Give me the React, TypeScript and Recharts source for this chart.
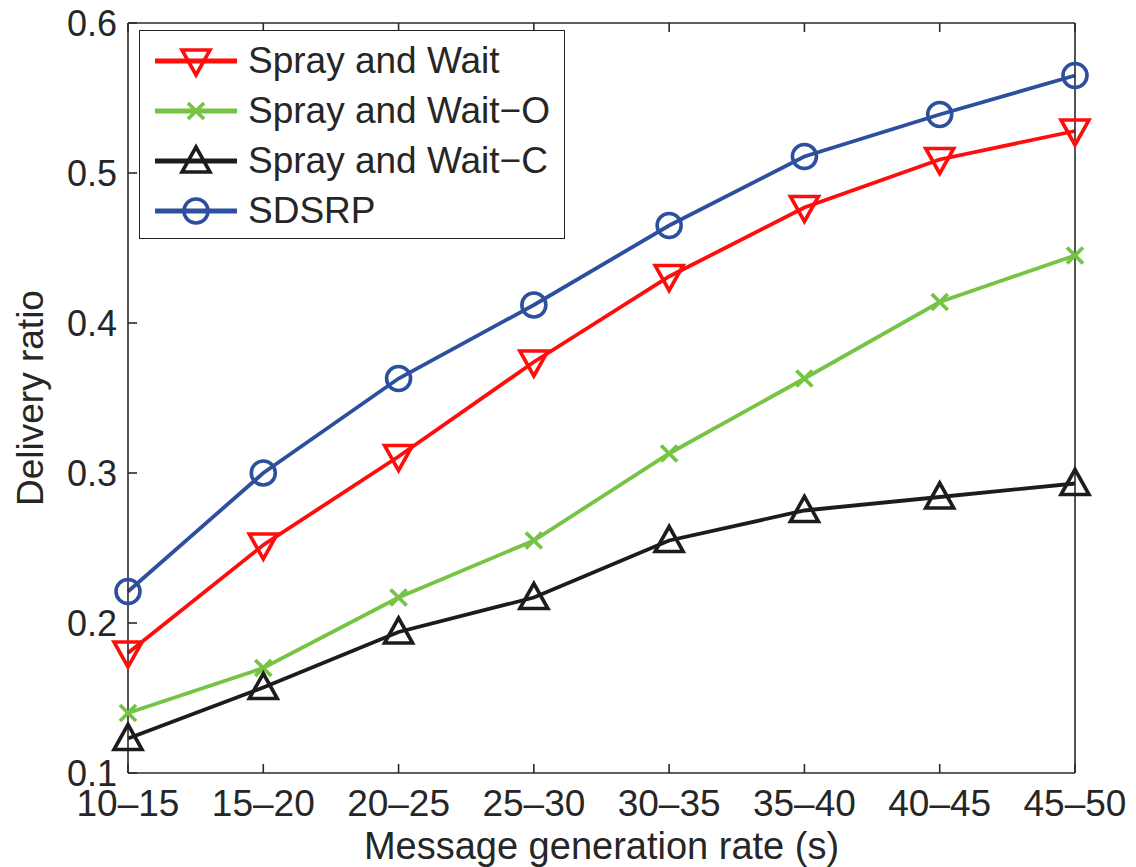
import React from 'react';
import { LineChart, Line, XAxis, YAxis } from 'recharts';

const rates = ['10\u201315', '15\u201320', '20\u201325', '25\u201330', '30\u201335', '35\u201340', '40\u201345', '45\u201350'];
const sprayWait = [0.18, 0.252, 0.311, 0.374, 0.431, 0.477, 0.509, 0.528];
const sprayWaitO = [0.14, 0.17, 0.217, 0.255, 0.313, 0.363, 0.414, 0.445];
const sprayWaitC = [0.123, 0.157, 0.194, 0.217, 0.255, 0.275, 0.284, 0.293];
const sdsrp = [0.221, 0.3, 0.363, 0.412, 0.465, 0.511, 0.539, 0.565];
const yTicks = [0.1, 0.2, 0.3, 0.4, 0.5, 0.6];

const data = rates.map((r, i) => ({
  rate: r,
  sw: sprayWait[i],
  swo: sprayWaitO[i],
  swc: sprayWaitC[i],
  sdsrp: sdsrp[i],
}));

const FONT = '"Liberation Sans", Arial, Helvetica, sans-serif';
const AXIS = '#2a2a2a';
const TEXT = '#262626';

type Shape = 'down' | 'up' | 'x' | 'circle';

const series: { key: string; name: string; color: string; shape: Shape }[] = [
  { key: 'sw', name: 'Spray and Wait', color: '#ff0d0d', shape: 'down' },
  { key: 'swo', name: 'Spray and Wait\u2212O', color: '#76c443', shape: 'x' },
  { key: 'swc', name: 'Spray and Wait\u2212C', color: '#1c1c1c', shape: 'up' },
  { key: 'sdsrp', name: 'SDSRP', color: '#2c509e', shape: 'circle' },
];

function Marker({ cx, cy, shape, color }: { cx: number; cy: number; shape: Shape; color: string }) {
  const w = 14;
  if (shape === 'down') {
    return (
      <polygon
        points={`${cx - w},${cy - 11} ${cx + w},${cy - 11} ${cx},${cy + 14}`}
        fill="none" stroke={color} strokeWidth={3.6} strokeLinejoin="miter"
      />
    );
  }
  if (shape === 'up') {
    return (
      <polygon
        points={`${cx - w},${cy + 11} ${cx + w},${cy + 11} ${cx},${cy - 14}`}
        fill="none" stroke={color} strokeWidth={3.6} strokeLinejoin="miter"
      />
    );
  }
  if (shape === 'x') {
    const k = 8;
    return (
      <g stroke={color} strokeWidth={3.8}>
        <line x1={cx - k} y1={cy - k} x2={cx + k} y2={cy + k} />
        <line x1={cx - k} y1={cy + k} x2={cx + k} y2={cy - k} />
      </g>
    );
  }
  return <circle cx={cx} cy={cy} r={12} fill="none" stroke={color} strokeWidth={3.6} />;
}

const makeDot = (shape: Shape, color: string) => (props: any) => {
  const { cx, cy, index } = props;
  return (
    <g key={`${shape}-${index}`}>
      <Marker cx={cx} cy={cy} shape={shape} color={color} />
    </g>
  );
};

function LegendBox() {
  return (
    <div
      style={{
        position: 'absolute',
        left: 139,
        top: 30,
        border: '1.5px solid #222',
        background: '#fff',
        width: 426,
        height: 209,
        padding: '5px 0 0 0',
        boxSizing: 'border-box',
        fontFamily: FONT,
      }}
    >
      {series.map((s) => (
        <div key={s.key} style={{ display: 'flex', alignItems: 'center', height: 50 }}>
          <svg width={108} height={50} style={{ display: 'block' }}>
            <line x1={15} y1={25} x2={97} y2={25} stroke={s.color} strokeWidth={5} />
            <Marker cx={56} cy={25} shape={s.shape} color={s.color} />
          </svg>
          <span style={{ fontSize: 37, color: TEXT, whiteSpace: 'nowrap', lineHeight: '50px' }}>{s.name}</span>
        </div>
      ))}
    </div>
  );
}

export default function App() {
  return (
    <div style={{ position: 'absolute', left: 0, top: 0, width: 1136, height: 867, background: '#fff' }}>
      <LineChart
        width={1136}
        height={867}
        data={data}
        margin={{ top: 22, right: 60, bottom: 0, left: 0 }}
      >
        <XAxis
          dataKey="rate"
          xAxisId="bottom"
          height={94}
          tickSize={-9}
          tickMargin={26}
          interval={0}
          stroke={AXIS}
          strokeWidth={1.6}
          tick={{ fontSize: 37, fill: TEXT, fontFamily: FONT }}
          label={{ value: 'Message generation rate (s)', position: 'insideBottom', offset: 8, fontSize: 38, fill: TEXT, fontFamily: FONT }}
        />
        <XAxis
          dataKey="rate"
          xAxisId="top"
          orientation="top"
          height={1}
          tickSize={-9}
          interval={0}
          stroke={AXIS}
          strokeWidth={1.6}
          tickFormatter={() => ''}
        />
        <YAxis
          yAxisId="left"
          width={128}
          domain={[0.1, 0.6]}
          ticks={yTicks}
          tickSize={-9}
          tickMargin={20}
          stroke={AXIS}
          strokeWidth={1.6}
          tickFormatter={(v: number) => v.toFixed(1)}
          tick={{ fontSize: 36, fill: TEXT, fontFamily: FONT }}
          label={{ value: 'Delivery ratio', angle: -90, position: 'insideLeft', offset: 30, fontSize: 37, fill: TEXT, fontFamily: FONT, style: { textAnchor: 'middle' } }}
        />
        <YAxis
          yAxisId="right"
          orientation="right"
          width={1}
          domain={[0.1, 0.6]}
          ticks={yTicks}
          tickSize={-9}
          stroke={AXIS}
          strokeWidth={1.6}
          tickFormatter={() => ''}
        />
        {series.map((s) => (
          <Line
            key={s.key}
            xAxisId="bottom"
            yAxisId="left"
            type="linear"
            dataKey={s.key}
            name={s.name}
            stroke={s.color}
            strokeWidth={3.8}
            dot={makeDot(s.shape, s.color)}
            activeDot={false}
            isAnimationActive={false}
          />
        ))}
      </LineChart>
      <LegendBox />
    </div>
  );
}
